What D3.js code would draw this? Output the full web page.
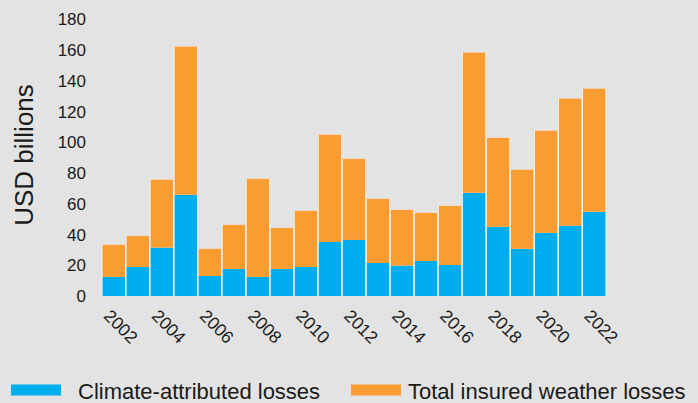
<!DOCTYPE html>
<html>
<head>
<meta charset="utf-8">
<script src="https://cdn.jsdelivr.net/npm/d3@7"></script>
<style>
  html, body { margin: 0; padding: 0; background: #e3e3e3; }
  svg { display: block; font-family: "Liberation Sans", Arial, Helvetica, sans-serif; }
  .axis text { fill: #1a1a1a; }
</style>
</head>
<body>
<div id="vis"></div>
<script>
var width = 698,
    height = 403;

// values (USD billions)
var years = [2002, 2003, 2004, 2005, 2006, 2007, 2008, 2009, 2010, 2011, 2012,
             2013, 2014, 2015, 2016, 2017, 2018, 2019, 2020, 2021, 2022];
var climateLosses = [12.4, 18.9, 31.5, 65.9, 13.0, 17.6, 12.4, 17.6, 18.9, 35.2, 36.5,
                     21.5, 19.8, 22.8, 20.2, 67.2, 45.0, 30.7, 41.1, 45.7, 54.8];
var totalLosses = [33.3, 39.1, 75.7, 162.4, 30.7, 46.3, 76.3, 44.3, 55.4, 105.0, 89.3,
                   63.3, 56.1, 54.1, 58.7, 158.5, 103.0, 82.2, 107.6, 128.5, 135.0];
var yTicks = [0, 20, 40, 60, 80, 100, 120, 140, 160, 180];
var xTickYears = [2002, 2004, 2006, 2008, 2010, 2012, 2014, 2016, 2018, 2020, 2022];
var legendLabels = ["Climate-attributed losses", "Total insured weather losses"];

var colors = {climate: "#00aeef", rest: "#f99d33"};

var rows = years.map(function(y, i) {
  return {year: y, climate: climateLosses[i], rest: totalLosses[i] - climateLosses[i], total: totalLosses[i]};
});
var stacked = d3.stack().keys(["climate", "rest"])(rows);

var svg = d3.select("#vis").append("svg")
    .attr("width", width)
    .attr("height", height);

svg.append("rect").attr("width", width).attr("height", height).attr("fill", "#e3e3e3");

var x = d3.scaleBand()
    .domain(years)
    .range([102.5, 605.5])
    .paddingInner(0.06)
    .paddingOuter(0);

var y = d3.scaleLinear()
    .domain([0, 180])
    .range([296, 19.5]);

// white separators between columns
var gap = x.step() - x.bandwidth();
svg.append("g").selectAll("rect").data(rows).enter()
    .append("rect")
    .attr("x", function(d) { return x(d.year) - gap / 2; })
    .attr("width", x.bandwidth() + gap)
    .attr("y", function(d) { return y(d.total); })
    .attr("height", function(d) { return y(0) - y(d.total); })
    .attr("fill", "#ffffff");

svg.append("g").selectAll("g").data(stacked).enter()
    .append("g")
    .attr("fill", function(s) { return colors[s.key]; })
  .selectAll("rect").data(function(s) { return s; }).enter()
    .append("rect")
    .attr("x", function(d) { return x(d.data.year); })
    .attr("width", x.bandwidth())
    .attr("y", function(d) { return y(d[1]); })
    .attr("height", function(d) { return y(d[0]) - y(d[1]); });

// y axis
var yAxis = svg.append("g")
    .attr("class", "axis")
    .attr("transform", "translate(86,0)")
    .call(d3.axisLeft(y).tickValues(yTicks).tickSize(0).tickPadding(0));
yAxis.select(".domain").remove();
yAxis.selectAll("text").attr("font-size", 17).attr("font-family", null);

// x axis
var xAxis = svg.append("g")
    .attr("class", "axis")
    .attr("transform", "translate(0,296)")
    .call(d3.axisBottom(x).tickValues(xTickYears).tickSize(0));
xAxis.select(".domain").remove();
xAxis.selectAll("text")
    .attr("font-size", 17.5)
    .attr("font-family", null)
    .attr("text-anchor", "start")
    .attr("x", 0).attr("y", 0).attr("dy", 0)
    .attr("transform", "translate(-11,21) rotate(45)");

// y title
svg.append("text")
    .attr("transform", "translate(33,155) rotate(-90)")
    .attr("text-anchor", "middle")
    .attr("font-size", 26)
    .attr("fill", "#1a1a1a")
    .text("USD billions");

// legend
var legend = [
  {label: legendLabels[0], color: colors.climate, rx: 11, tx: 78},
  {label: legendLabels[1], color: colors.rest, rx: 351, tx: 408}
];
var lg = svg.append("g").selectAll("g").data(legend).enter().append("g");
lg.append("rect")
    .attr("x", function(d) { return d.rx; })
    .attr("y", 384.5)
    .attr("width", 50)
    .attr("height", 11)
    .attr("fill", function(d) { return d.color; });
lg.append("text")
    .attr("x", function(d) { return d.tx; })
    .attr("y", 399)
    .attr("font-size", 22)
    .attr("fill", "#1a1a1a")
    .text(function(d) { return d.label; });
</script>
</body>
</html>
